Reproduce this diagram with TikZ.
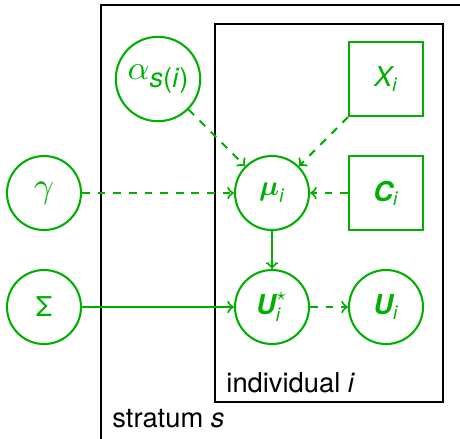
\documentclass[tikz,border=0pt]{standalone}
\usepackage{amsmath}
\usepackage{fontspec}
\setmainfont{TeX Gyre Heros}
\usepackage{xcolor}
\usepackage{tikz}
\definecolor{nodegreen}{RGB}{0,176,0}

\begin{document}
\begin{tikzpicture}[x=1.54cm, y=1.54cm,
    every node/.append style={font=\fontsize{10.5}{12.6}\selectfont},
    var/.style={circle, draw=nodegreen, text=nodegreen, thick, minimum size=1cm, inner sep=2pt},
    obs/.style={rectangle, draw=nodegreen, text=nodegreen, thick, minimum size=1cm},
    plate/.style={draw, semithick},
    platelab/.style={anchor=south west, inner xsep=4.2pt},
    link/.style={->, thick, nodegreen},
    dlink/.style={->, thick, dashed, nodegreen}]
    % 画布
    \path[use as bounding box, clip] (-2.386, -2.149) rectangle (1.649, 1.693);

    % 外层: stratum
    \draw[plate] (-1.5, -2.2) rectangle (2, 1.649);
    \node[platelab] (stratumlab) at (-1.5, -2.137) {stratum \textit{s}};

    % 内层: individual
    \draw[plate] (-0.5, -1.833) rectangle (1.5, 1.482);
    \node[platelab] (indivlab) at (-0.5, -1.833) {individual \textit{i}};

    % 变量
    \node[var, minimum size=1.14cm] (alpha) at (-1, 1) {\scalebox{1.2}{$\alpha$}\raisebox{-0.6ex}{\textit{s}(\textit{i})}};
    \node[obs] (X) at (1, 1) {$\text{\itshape X}_{\text{\itshape i}}$};
    \node[var] (gamma) at (-2, 0) {\scalebox{1.25}{$\gamma$}};
    \node[var] (mu) at (0, 0) {$\boldsymbol{\mu}_{\text{\itshape i}}$};
    \node[obs] (C) at (1, 0) {$\text{\bfseries\itshape C}_{\text{\itshape i}}$};
    \node[var] (Sigma) at (-2, -1) {Σ};
    \node[var] (Ustar) at (0, -1) {$\text{\bfseries\itshape U}^{\star}_{\text{\itshape i}}$};
    \node[var] (U) at (1, -1) {$\text{\bfseries\itshape U}_{\text{\itshape i}}$};

    % 依赖关系
    \foreach \a/\b in {alpha/mu, X/mu, gamma/mu, C/mu, Ustar/U} {
        \draw[dlink] (\a) -- (\b);
    }
    \draw[link] (mu) -- (Ustar);
    \draw[link] (Sigma) -- (Ustar);
\end{tikzpicture}
\end{document}
